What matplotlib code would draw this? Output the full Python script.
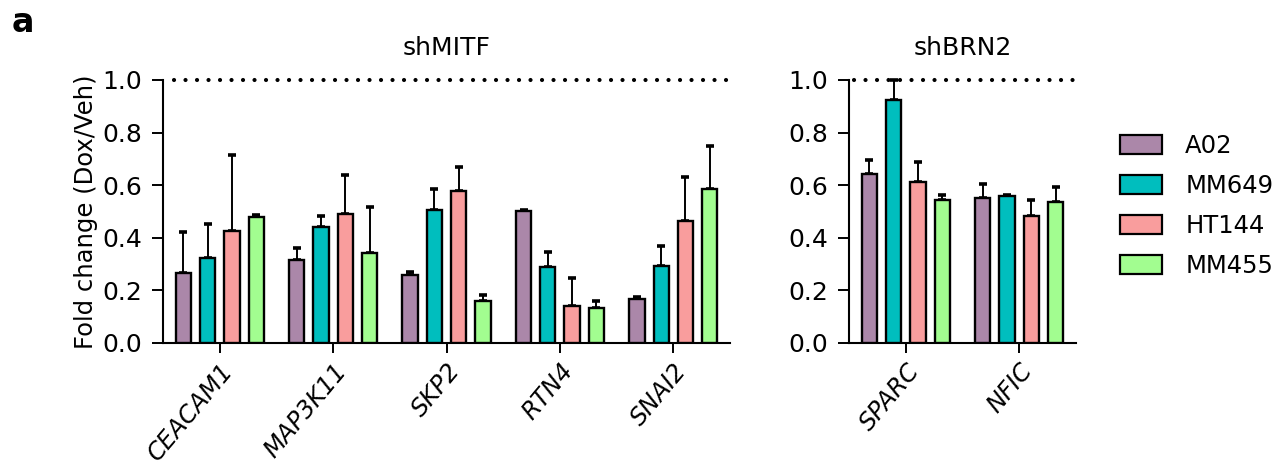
import numpy as np
import matplotlib
matplotlib.use("Agg")
import matplotlib.pyplot as plt
import matplotlib.patches as mpatches
from matplotlib.transforms import ScaledTranslation

# cell lines and colours
cell_lines = ["A02", "MM649", "HT144", "MM455"]
colors = ["#ab87a9", "#00bebe", "#f99d9d", "#a2fd90"]

# shMITF panel (rows = genes, cols = cell lines)
genes_mitf = ["CEACAM1", "MAP3K11", "SKP2", "RTN4", "SNAI2"]
mitf_mean = np.array([[0.267, 0.322, 0.427, 0.479],
                      [0.316, 0.442, 0.489, 0.341],
                      [0.260, 0.506, 0.579, 0.161],
                      [0.503, 0.288, 0.141, 0.133],
                      [0.167, 0.292, 0.464, 0.587]])
mitf_sem = np.array([[0.154, 0.130, 0.289, 0.008],
                     [0.044, 0.041, 0.150, 0.175],
                     [0.011, 0.081, 0.089, 0.021],
                     [0.003, 0.058, 0.107, 0.027],
                     [0.008, 0.077, 0.167, 0.163]])

# shBRN2 panel
genes_brn2 = ["SPARC", "NFIC"]
brn2_mean = np.array([[0.643, 0.922, 0.611, 0.542],
                      [0.550, 0.557, 0.481, 0.536]])
brn2_sem = np.array([[0.051, 0.078, 0.078, 0.020],
                     [0.056, 0.005, 0.061, 0.059]])

plt.rcParams["font.family"] = ["DejaVu Sans"]

fig = plt.figure(figsize=(12.88, 4.68), dpi=100)
ax1 = fig.add_axes([0.1266, 0.2671, 0.4402, 0.5620])
ax2 = fig.add_axes([0.6592, 0.2671, 0.1762, 0.5620])

pitch = 0.214
width = 0.135


def draw(ax, genes, mean, sem, title):
    x = np.arange(len(genes))
    for j in range(len(cell_lines)):
        xs = x + (j - 1.5) * pitch
        ax.bar(xs, mean[:, j], width, color=colors[j], edgecolor="k", linewidth=1.7, zorder=3)
        ax.errorbar(xs, mean[:, j], yerr=[np.zeros(len(genes)), sem[:, j]], fmt="none",
                    ecolor="k", elinewidth=1.4, capsize=3, capthick=2.6, zorder=2, clip_on=False)
    ax.axhline(1.0, xmin=0.02, color="k", linewidth=3.0, linestyle=(0, (0.01, 2.75)),
               dash_capstyle="round", clip_on=False, zorder=4)
    ax.set_xlim(-0.5, len(genes) - 0.5)
    ax.set_ylim(0, 1.0)
    ax.set_yticks([0, 0.2, 0.4, 0.6, 0.8, 1.0])
    ax.set_yticklabels(["0.0", "0.2", "0.4", "0.6", "0.8", "1.0"])
    ax.set_xticks(x)
    ax.set_xticklabels(genes, rotation=50, ha="right", va="top", rotation_mode="anchor",
                       fontstyle="italic", fontsize=17.5)
    shift = ScaledTranslation(0.12, -0.14, fig.dpi_scale_trans)
    for lab in ax.get_xticklabels():
        lab.set_transform(lab.get_transform() + shift)
    for s in ["top", "right"]:
        ax.spines[s].set_visible(False)
    for s in ["left", "bottom"]:
        ax.spines[s].set_linewidth(1.5)
    ax.tick_params(axis="y", direction="out", length=8, width=1.4, pad=7, labelsize=18)
    ax.tick_params(axis="x", direction="out", length=7.5, width=1.4, pad=4)
    ax.set_title(title, fontsize=18, pad=18)


draw(ax1, genes_mitf, mitf_mean, mitf_sem, "shMITF")
draw(ax2, genes_brn2, brn2_mean, brn2_sem, "shBRN2")
ax1.set_ylabel("Fold change (Dox/Veh)", fontsize=17.5, labelpad=3)

handles = [mpatches.Patch(facecolor=colors[i], edgecolor="k", linewidth=1.6) for i in range(len(cell_lines))]
fig.legend(handles, cell_lines, loc="upper left", bbox_to_anchor=(0.8696, 0.714),
           frameon=False, fontsize=17.5, handlelength=1.73, handleheight=0.86,
           handletextpad=0.95, labelspacing=0.66, borderaxespad=0, borderpad=0)

fig.text(12 / 1288, 1 - 32 / 468, "a", fontsize=24, fontweight="bold", va="baseline")

fig.savefig("out.png", dpi=100)
